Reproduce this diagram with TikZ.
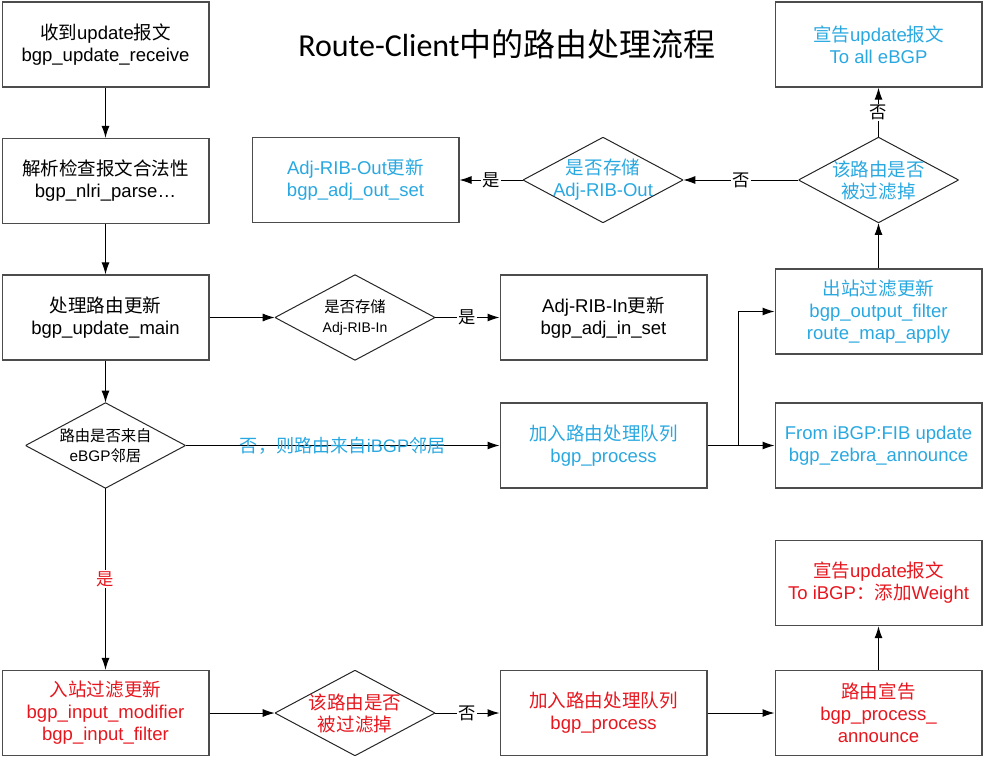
\documentclass[tikz,border=0pt]{standalone}
\usepackage{fontspec}
\setmainfont{Liberation Sans}
\newfontfamily\zh{Noto Sans CJK SC}
\newfontfamily\titlefont{Carlito}
\usetikzlibrary{arrows.meta}
\definecolor{zhblue}{RGB}{41,168,224}
\definecolor{zhred}{RGB}{230,22,30}

\begin{document}
\begin{tikzpicture}[x=0.75pt, y=-0.75pt,
    box/.style={rectangle, draw=black!70, line width=1pt, minimum width=155pt, minimum height=63.75pt, align=center, inner sep=2pt, font=\fontsize{13.9}{16.5}\selectfont},
    blue box/.style={box, text=zhblue},
    red box/.style={box, text=zhred},
    decision/.style={rectangle, minimum width=120pt, minimum height=64pt, inner sep=0pt, align=center, font=\fontsize{13.9}{16.5}\selectfont,
        path picture={\draw[black!85, line width=0.75pt] (path picture bounding box.north) -- (path picture bounding box.east) -- (path picture bounding box.south) -- (path picture bounding box.west) -- cycle;}},
    arrow/.style={-{Latex[length=9pt,width=6pt]}, line width=0.75pt},
    tag/.style={fill=white, inner sep=1pt, font=\zh\fontsize{13}{15}\selectfont}
]
\useasboundingbox (0,0) rectangle (984,757);

% Title
\node[font=\titlefont\fontsize{24}{28}\selectfont] (title) at (507,44) {Route-Client{\zh 中的路由处理流程}};

% Left column
\node[box] (recv) at (105.5,44.5) {{\zh 收到}update{\zh 报文}\\bgp\_update\_receive};
\node[box] (parse) at (105.5,181) {{\zh 解析检查报文合法性}\\bgp\_nlri\_parse…};
\node[box] (main) at (105.5,317.5) {{\zh 处理路由更新}\\bgp\_update\_main};
\node[decision, font=\fontsize{11.5}{15.5}\selectfont] (fromE) at (105.5,445.5) {{\zh 路由是否来自}\\eBGP{\zh 邻居}};
\node[red box] (inFilter) at (105.5,713) {{\zh 入站过滤更新}\\bgp\_input\_modifier\\bgp\_input\_filter};

% Middle columns
\node[blue box] (adjOut) at (355.5,180) {Adj-RIB-Out{\zh 更新}\\bgp\_adj\_out\_set};
\node[decision, text=zhblue] (storeOut) at (603,180) {{\zh 是否存储}\\Adj-RIB-Out};
\node[decision, font=\fontsize{11.5}{15.5}\selectfont] (storeIn) at (355,317.5) {{\zh 是否存储}\\{\fontsize{10.5}{12}\selectfont Adj-RIB-In}};
\node[box] (adjIn) at (603.5,317.5) {Adj-RIB-In{\zh 更新}\\bgp\_adj\_in\_set};
\node[blue box] (queueB) at (603.5,445.5) {{\zh 加入路由处理队列}\\bgp\_process};
\node[decision, text=zhred] (dropIn) at (355,713) {{\zh 该路由是否}\\{\zh 被过滤掉}};
\node[red box] (queueR) at (603.5,713) {{\zh 加入路由处理队列}\\bgp\_process};

% Right column
\node[blue box] (sendE) at (878.5,44.5) {{\zh 宣告}update{\zh 报文}\\To all eBGP};
\node[decision, text=zhblue] (dropOut) at (878.5,180) {{\zh 该路由是否}\\{\zh 被过滤掉}};
\node[blue box] (outFilter) at (878.5,311.5) {{\zh 出站过滤更新}\\bgp\_output\_filter\\route\_map\_apply};
\node[blue box] (fib) at (878.5,445.5) {From iBGP:FIB update\\bgp\_zebra\_announce};
\node[red box] (sendI) at (878.5,583) {{\zh 宣告}update{\zh 报文}\\To iBGP{\zh ：添加}Weight};
\node[red box] (announce) at (878.5,713) {{\zh 路由宣告}\\bgp\_process\_\\announce};

% Connectors
\draw[arrow] (recv) -- (parse);
\draw[arrow] (parse) -- (main);
\draw[arrow] (main) -- (fromE);
\draw[arrow] (main) -- (storeIn);
\draw[arrow] (storeIn) -- node[tag] {是} (adjIn);
\draw[arrow] (fromE) -- node[font=\zh\fontsize{13.6}{15}\selectfont, text=zhblue] {否，则路由来自{\rmfamily iBGP}邻居} (queueB);
\draw[arrow] (fromE) -- node[tag, text=zhred] {是} (inFilter);
\draw[arrow] (inFilter) -- (dropIn);
\draw[arrow] (dropIn) -- node[tag] {否} (queueR);
\draw[arrow] (queueR) -- (announce);
\draw[arrow] (announce) -- (sendI);
\draw[arrow] (queueB) -- (fib);
\coordinate (split) at (738,445.5);
\draw[arrow] (split) |- (outFilter.west);
\draw[arrow] (outFilter) -- (dropOut);
\draw[arrow] (dropOut) -- node[tag] {否} (sendE);
\draw[arrow] (dropOut) -- node[tag] {否} (storeOut);
\draw[arrow] (storeOut) -- node[tag] {是} (adjOut);

\end{tikzpicture}
\end{document}
